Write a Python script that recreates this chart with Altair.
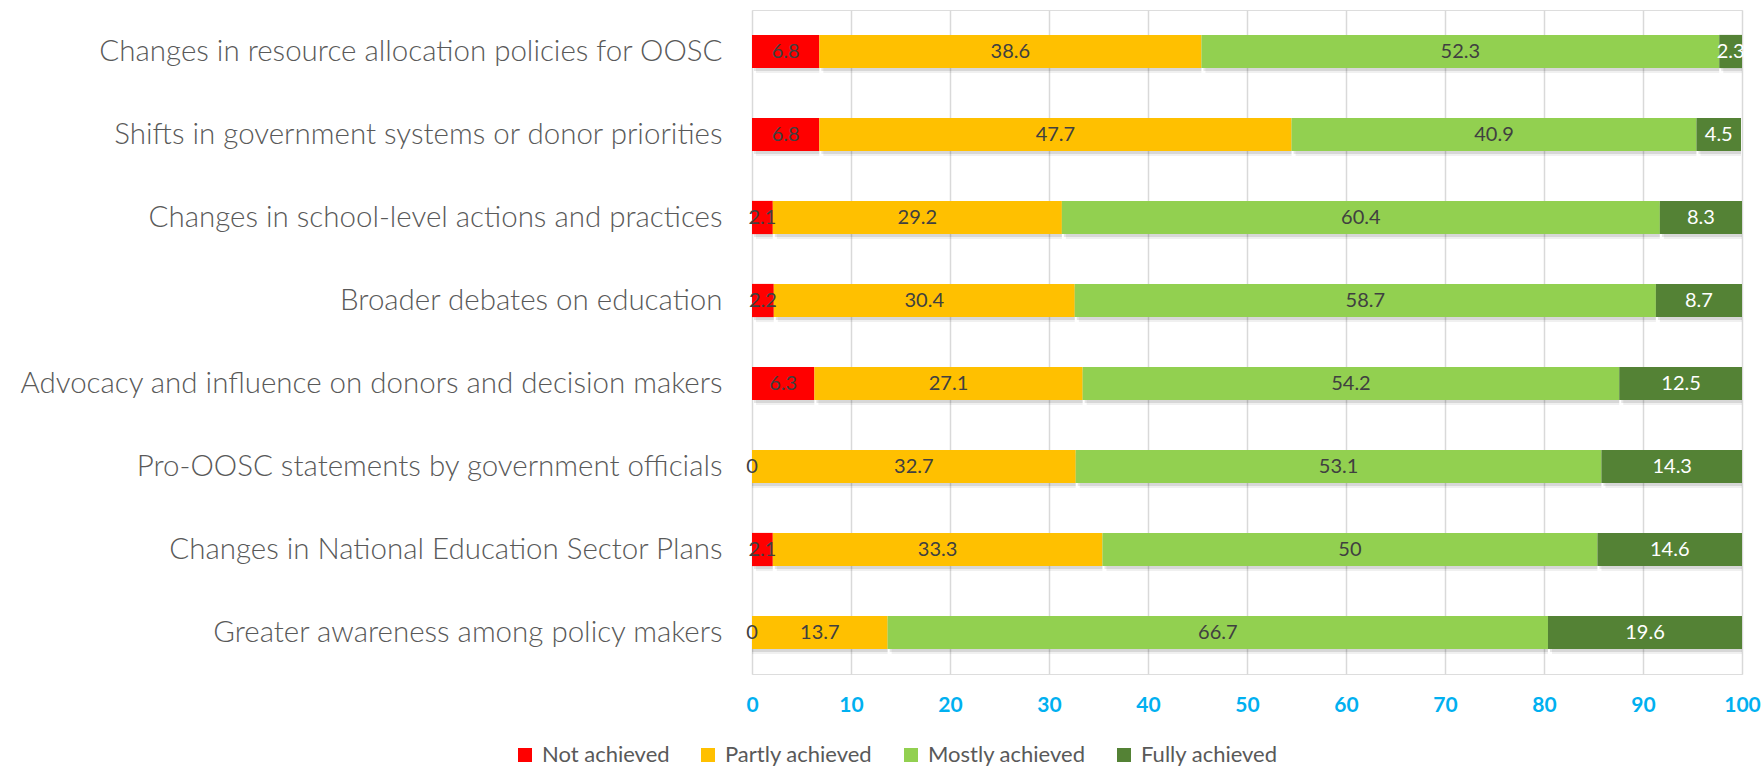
import altair as alt
import pandas as pd

categories = [
    "Changes in resource allocation policies for OOSC",
    "Shifts in government systems or donor priorities",
    "Changes in school-level actions and practices",
    "Broader debates on education",
    "Advocacy and influence on donors and decision makers",
    "Pro-OOSC statements by government officials",
    "Changes in National Education Sector Plans",
    "Greater awareness among policy makers",
]
statuses = ["Not achieved", "Partly achieved", "Mostly achieved", "Fully achieved"]
colors = ["#FF0000", "#FFC000", "#92D050", "#548235"]

not_achieved = [6.8, 6.8, 2.1, 2.2, 6.3, 0, 2.1, 0]
partly_achieved = [38.6, 47.7, 29.2, 30.4, 27.1, 32.7, 33.3, 13.7]
mostly_achieved = [52.3, 40.9, 60.4, 58.7, 54.2, 53.1, 50, 66.7]
fully_achieved = [2.3, 4.5, 8.3, 8.7, 12.5, 14.3, 14.6, 19.6]

series = [not_achieved, partly_achieved, mostly_achieved, fully_achieved]
rows = []
for si, (st, vals) in enumerate(zip(statuses, series)):
    for c, v in zip(categories, vals):
        rows.append({"cat": c, "status": st, "order": si, "value": v})
df = pd.DataFrame(rows)

base = alt.Chart(df).transform_stack(
    stack="value", groupby=["cat"], as_=["x0", "x1"],
    sort=[alt.SortField("order", order="ascending")],
).transform_calculate(mid="(datum.x0 + datum.x1) / 2")

xscale = alt.Scale(domain=[0, 100], nice=False, clamp=True)
yscale = alt.Scale(paddingInner=0.6, paddingOuter=0.3)

y_enc = alt.Y(
    "cat:N", sort=categories, title=None, scale=yscale,
    axis=alt.Axis(labelFont="Lato", labelFontSize=29.5, labelFontWeight=300,
                  labelColor="#595959", labelPadding=30, ticks=False, tickSize=0,
                  domain=False, labelLimit=900),
)

x_enc = alt.X("x0:Q", scale=xscale, title=None,
              axis=alt.Axis(values=list(range(0, 101, 10)), labelFont="Lato", labelFontSize=21,
                            labelFontWeight="bold", labelColor="#00B0F0", labelPadding=20,
                            labelFlush=False, ticks=False, tickSize=0, domain=False, grid=True,
                            gridColor="#D9D9D9", gridWidth=1.5))

shadow1 = base.mark_bar(color="#000000", opacity=0.10, xOffset=2, yOffset=3).encode(
    x=x_enc, x2="x1:Q", y=y_enc)
shadow2 = base.mark_bar(color="#000000", opacity=0.06, xOffset=4, yOffset=5).encode(
    x=x_enc, x2="x1:Q", y=y_enc)

bars = base.mark_bar().encode(
    x=x_enc,
    x2="x1:Q",
    y=y_enc,
    color=alt.Color("status:N", scale=alt.Scale(domain=statuses, range=colors),
                    sort=statuses, title=None,
                    legend=alt.Legend(orient="none", direction="horizontal", columns=4,
                                      legendX=-238, legendY=734, symbolType="square",
                                      symbolSize=196, symbolStrokeWidth=0,
                                      labelFont="Lato", labelFontSize=22,
                                      labelColor="#595959", labelOffset=6,
                                      columnPadding=27, labelLimit=300)),
    order=alt.Order("order:Q"),
)

labels = base.mark_text(font="Lato", fontSize=20, baseline="middle", align="center").encode(
    x=alt.X("mid:Q"),
    y=alt.Y("cat:N", sort=categories),
    text=alt.Text("value:Q", format=".1~f"),
    color=alt.condition(alt.datum.status == "Fully achieved", alt.value("#FFFFFF"),
                        alt.value("#404040")),
)

chart = alt.layer(shadow2, shadow1, bars, labels).properties(
    width=990, height=664,
    autosize=alt.AutoSizeParams(type="none"),
    padding={"left": 752, "top": 10, "right": 22, "bottom": 94},
).configure_view(stroke=None).configure(background="white")

chart.save("out.html", embed_options={"renderer": "svg", "actions": False})
